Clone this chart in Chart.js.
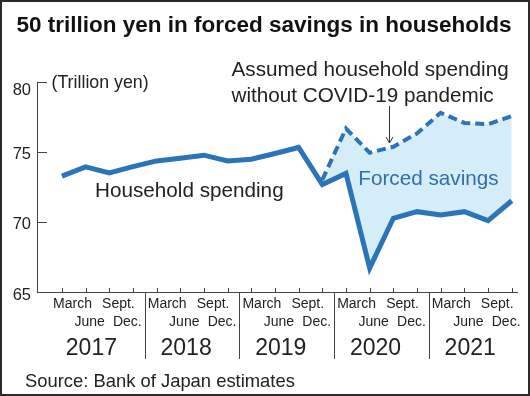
<!DOCTYPE html>
<html>
<head>
<meta charset="utf-8">
<title>Forced savings in households</title>
<script src="https://cdn.jsdelivr.net/npm/chart.js@4.4.1/dist/chart.umd.min.js"></script>
<style>
  html, body { margin: 0; padding: 0; background: #fff; }
  #wrap { width: 530px; height: 396px; }
</style>
</head>
<body>
<div id="wrap"><canvas id="chart" width="530" height="396"></canvas></div>
<script>
// Values (trillion yen, quarterly 2017-2021)
const quarters = ['March', 'June', 'Sept.', 'Dec.'];
const years = ['2017', '2018', '2019', '2020', '2021'];
const yTicks = [65, 70, 75, 80];
const spending = [73.27, 73.92, 73.5, 73.94, 74.35, 74.54, 74.76, 74.35, 74.47, 74.88,
                  75.31, 72.67, 73.46, 66.7, 70.26, 70.73, 70.5, 70.73, 70.09, 71.51];
const assumed = [null, null, null, null, null, null, null, null, null, null,
                 null, 73.0, 76.66, 74.93, 75.36, 76.31, 77.78, 77.06, 76.97, 77.54];

const BLUE = '#2b74b8';
const FILL = '#d5ecf9';
const INK = '#222';
const FONT = '"Liberation Sans", Arial, sans-serif';

function toPoints(values) {
    return values.map((v, i) => ({ x: i, y: v }));
}

function drawText(ctx, str, x, y, size, opts = {}) {
    ctx.save();
    ctx.font = (opts.bold ? 'bold ' : '') + size + 'px ' + FONT;
    ctx.fillStyle = opts.color || INK;
    ctx.textAlign = opts.align || 'left';
    ctx.textBaseline = 'alphabetic';
    ctx.fillText(str, x, y);
    ctx.restore();
}

function line(ctx, x1, y1, x2, y2) {
    ctx.beginPath();
    ctx.moveTo(x1, y1);
    ctx.lineTo(x2, y2);
    ctx.stroke();
}

const decor = {
    id: 'decor',
    beforeDraw(chart) {
        const ctx = chart.ctx;
        ctx.save();
        ctx.fillStyle = '#fff';
        ctx.fillRect(0, 0, chart.width, chart.height);
        ctx.restore();
    },
    afterDraw(chart) {
        const ctx = chart.ctx;
        const xs = chart.scales.x;
        const ys = chart.scales.y;
        const area = chart.chartArea;

        ctx.save();
        ctx.strokeStyle = '#444';
        ctx.lineWidth = 1;

        // axes
        line(ctx, area.left + 0.5, ys.getPixelForValue(80), area.left + 0.5, area.bottom);
        line(ctx, area.left, area.bottom + 0.5, area.right, area.bottom + 0.5);

        // y ticks point inward
        yTicks.forEach(v => {
            const py = Math.round(ys.getPixelForValue(v)) + 0.5;
            if (v > 65) line(ctx, area.left, py, area.left + 10, py);
            const off = v === 80 ? 12 : (v === 65 ? 7.5 : 6.3);
            drawText(ctx, String(v), 31, py + off, 16.5, { align: 'right' });
        });

        // quarter ticks on x axis
        spending.forEach((v, i) => {
            const px = Math.round(xs.getPixelForValue(i)) + 0.5;
            line(ctx, px, area.bottom - 4, px, area.bottom);
        });

        // year separators and labels
        years.forEach((yr, k) => {
            const start = xs.getPixelForValue(4 * k - 0.5);
            const end = xs.getPixelForValue(4 * k + 3.5);
            const mid = xs.getPixelForValue(4 * k + 1.5);
            if (k > 0) {
                const sx = Math.round(start) + 0.5;
                line(ctx, sx, area.bottom, sx, 359);
            }
            drawText(ctx, quarters[0], Math.max(start + 3, 48.3), 308.3, 14);
            drawText(ctx, quarters[2], end - 10, 308.3, 14, { align: 'right' });
            drawText(ctx, quarters[1], end - 40, 326, 14, { align: 'right' });
            drawText(ctx, quarters[3], end - 3, 326, 14, { align: 'right' });
            drawText(ctx, yr, mid - 6, 355, 23, { align: 'center' });
        });

        // arrow to the assumed line
        const ax = Math.round(xs.getPixelForValue(13.83)) + 0.5;
        ctx.strokeStyle = '#333';
        line(ctx, ax, 106, ax, 143);
        ctx.beginPath();
        ctx.moveTo(ax - 3.5, 137);
        ctx.lineTo(ax, 143);
        ctx.lineTo(ax + 3.5, 137);
        ctx.stroke();

        // texts
        drawText(ctx, '50 trillion yen in forced savings in households', 264, 31.5, 22.5, { bold: true, align: 'center', color: '#111' });
        drawText(ctx, '(Trillion yen)', 51.5, 88, 17.8);
        drawText(ctx, 'Assumed household spending', 231.5, 75.5, 20.7);
        drawText(ctx, 'without COVID-19 pandemic', 231.5, 101.8, 20.7);
        drawText(ctx, 'Household spending', 95, 197.3, 20.7);
        drawText(ctx, 'Forced savings', 358.3, 184.5, 20.7, { color: '#2f6fae' });
        drawText(ctx, 'Source: Bank of Japan estimates', 25, 387.3, 18.4);

        // frame
        ctx.strokeStyle = '#2a2a2a';
        ctx.lineWidth = 2;
        ctx.strokeRect(1, 1, chart.width - 2, chart.height - 2);
        ctx.restore();
    }
};

const chart = new Chart(document.getElementById('chart'), {
    type: 'line',
    data: {
        datasets: [
            {
                label: 'Household spending',
                data: toPoints(spending),
                borderColor: BLUE,
                borderWidth: 5,
                borderJoinStyle: 'miter',
                pointRadius: 0,
                fill: false
            },
            {
                label: 'Assumed household spending without COVID-19 pandemic',
                data: toPoints(assumed),
                borderColor: BLUE,
                borderWidth: 4,
                borderDash: [9, 5],
                borderJoinStyle: 'miter',
                pointRadius: 0,
                backgroundColor: FILL,
                fill: { target: 0 }
            }
        ]
    },
    options: {
        responsive: false,
        animation: false,
        devicePixelRatio: 1,
        layout: { padding: { left: 37, right: 12, top: 81.7, bottom: 104 } },
        plugins: {
            legend: { display: false },
            tooltip: { enabled: false }
        },
        scales: {
            x: { type: 'linear', min: -1.052, max: 19.266, display: false },
            y: { type: 'linear', min: 65, max: 80, display: false }
        }
    },
    plugins: [decor]
});
</script>
</body>
</html>
